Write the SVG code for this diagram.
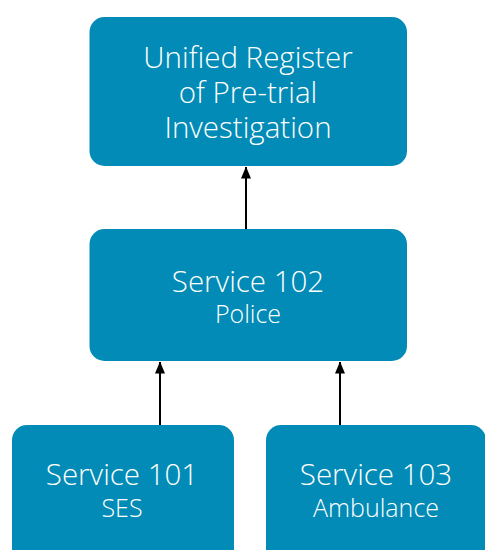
<svg xmlns="http://www.w3.org/2000/svg" width="485" height="550" viewBox="0 0 485 550">
<defs>
<style>
.box{fill:#028bb6;}
.t{font-family:"Open Sans","Noto Sans","DejaVu Sans",sans-serif;font-weight:300;fill:#ffffff;text-anchor:middle;}
.big{font-size:29.5px;}
.small{font-size:25px;}
.edge{stroke:#000;stroke-width:2;fill:none;marker-end:url(#arr);}
</style>
<marker id="arr" viewBox="0 0 12 10" refX="11.5" refY="5" markerWidth="12" markerHeight="10" markerUnits="userSpaceOnUse" orient="auto">
<path d="M0,0 L12,5 L0,10 Z" fill="#000"/>
</marker>
</defs>
<rect width="485" height="550" fill="#ffffff"/>
<g id="edges">
<line class="edge" x1="246" y1="231" x2="246" y2="167"/>
<line class="edge" x1="160" y1="425" x2="160" y2="362"/>
<line class="edge" x1="340" y1="425" x2="340" y2="362"/>
</g>
<g id="unified">
<rect class="box" x="89.5" y="17" width="317.5" height="149" rx="15"/>
<text class="t big" x="248" y="68">Unified Register</text>
<text class="t big" x="248" y="103">of Pre-trial</text>
<text class="t big" x="248" y="138">Investigation</text>
</g>
<g id="s102">
<rect class="box" x="89.5" y="229" width="317.5" height="132" rx="15"/>
<text class="t big" x="248" y="292">Service 102</text>
<text class="t small" x="248" y="323">Police</text>
</g>
<g id="s101">
<rect class="box" x="12" y="425" width="222" height="140" rx="15"/>
<text class="t big" x="122" y="485">Service 101</text>
<text class="t small" x="122" y="517">SES</text>
</g>
<g id="s103">
<rect class="box" x="266" y="425" width="220" height="140" rx="15"/>
<text class="t big" x="376" y="485">Service 103</text>
<text class="t small" x="376" y="517">Ambulance</text>
</g>
</svg>
